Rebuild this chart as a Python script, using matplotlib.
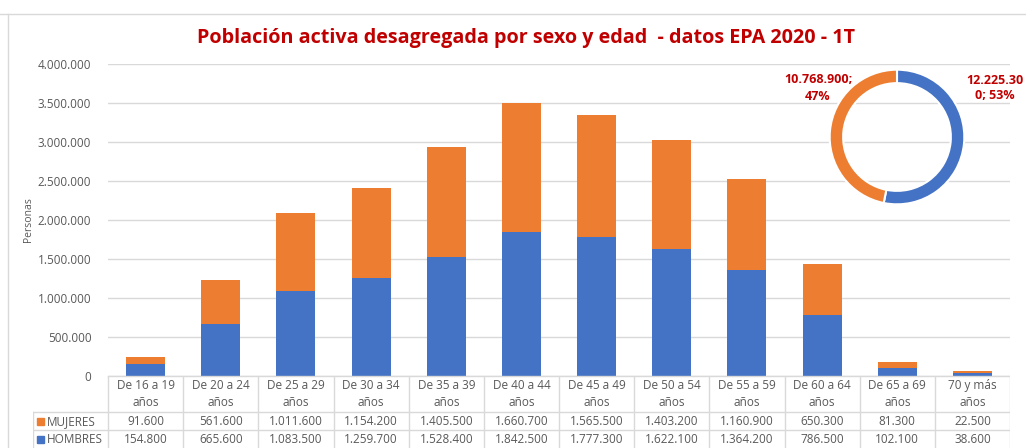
import matplotlib.pyplot as plt
from matplotlib.lines import Line2D
from matplotlib.patches import Rectangle

plt.rcParams['font.family'] = ['Open Sans', 'DejaVu Sans']

# Datos EPA 2020 - 1T
grupos = ['De 16 a 19\naños', 'De 20 a 24\naños', 'De 25 a 29\naños', 'De 30 a 34\naños',
          'De 35 a 39\naños', 'De 40 a 44\naños', 'De 45 a 49\naños', 'De 50 a 54\naños',
          'De 55 a 59\naños', 'De 60 a 64\naños', 'De 65 a 69\naños', '70 y más\naños']
hombres = [154800, 665600, 1083500, 1259700, 1528400, 1842500, 1777300, 1622100,
           1364200, 786500, 102100, 38600]
mujeres = [91600, 561600, 1011600, 1154200, 1405500, 1660700, 1565500, 1403200,
           1160900, 650300, 81300, 22500]
yticks = [0, 500000, 1000000, 1500000, 2000000, 2500000, 3000000, 3500000, 4000000]

azul = '#4472C4'
naranja = '#ED7D31'
rojo = '#C00000'
gris_txt = '#595959'
gris_lin = '#D9D9D9'


def fmt(v):
    return f'{v:,}'.replace(',', '.')


W, H = 1026, 448
fig = plt.figure(figsize=(W / 100, H / 100), dpi=100)


def px(x0, y0, x1, y1):
    # rectangulo en pixeles (origen arriba-izquierda) -> fracciones de figura
    return [x0 / W, 1 - y1 / H, (x1 - x0) / W, (y1 - y0) / H]


# borde del grafico
fig.add_artist(Line2D([0, 1], [1 - 14 / H, 1 - 14 / H], color=gris_lin, lw=1))
fig.add_artist(Line2D([8 / W, 8 / W], [0, 1 - 14 / H], color=gris_lin, lw=1))

fig.text(526 / W, 1 - 38 / H, 'Población activa desagregada por sexo y edad  - datos EPA 2020 - 1T',
         ha='center', va='center', color=rojo, fontsize=14.2, fontweight='bold')

# barras apiladas
ax = fig.add_axes(px(108, 64, 1010, 376))
x = range(len(grupos))
ax.bar(x, hombres, width=0.52, color=azul, zorder=3)
ax.bar(x, mujeres, width=0.52, bottom=hombres, color=naranja, zorder=3)
ax.set_xlim(-0.5, len(grupos) - 0.5)
ax.set_ylim(0, 4000000)
ax.set_yticks(yticks)
ax.set_yticklabels([fmt(v) for v in yticks], color=gris_txt, fontsize=8.5)
ax.set_xticks([])
ax.tick_params(axis='y', length=0, pad=12)
ax.grid(axis='y', color=gris_lin, lw=1, zorder=0)
for s in ax.spines.values():
    s.set_visible(False)
ax.axhline(0, color=gris_lin, lw=1, zorder=4)
fig.text(29 / W, 1 - 220 / H, 'Personas', rotation=90, ha='center', va='center',
         color=gris_txt, fontsize=7.5)

# tabla de datos
tb = fig.add_axes(px(33, 376, 1010, 448))
tb.set_xlim(-1.5, len(grupos) - 0.5)
tb.set_ylim(72, 0)
tb.axis('off')
for k in range(len(grupos) + 1):
    tb.plot([k - 0.5, k - 0.5], [0, 72], color=gris_lin, lw=1)
tb.plot([-1.5, -1.5], [36, 72], color=gris_lin, lw=1)
tb.plot([-0.5, len(grupos) - 0.5], [0, 0], color=gris_lin, lw=1)
for yy in (36, 54):
    tb.plot([-1.5, len(grupos) - 0.5], [yy, yy], color=gris_lin, lw=1)
for i, g in enumerate(grupos):
    tb.text(i, 18, g, ha='center', va='center', color=gris_txt, fontsize=8.5, linespacing=1.35)
    tb.text(i, 45.5, fmt(mujeres[i]), ha='center', va='center', color=gris_txt, fontsize=8.5)
    tb.text(i, 63.5, fmt(hombres[i]), ha='center', va='center', color=gris_txt, fontsize=8.5)
for yc, nombre, col in ((45.5, 'MUJERES', naranja), (63.5, 'HOMBRES', azul)):
    tb.add_patch(Rectangle((-1.45, yc + 3.5), 0.09, -7, color=col))
    tb.text(-1.32, yc, nombre, ha='left', va='center', color=gris_txt, fontsize=8.5)

# anillo con totales
tot_h = sum(hombres)
tot_m = sum(mujeres)
pa = fig.add_axes(px(829, 69, 965, 205))
pa.pie([tot_h, tot_m], colors=[azul, naranja], startangle=90, counterclock=False,
       wedgeprops=dict(width=0.2, edgecolor='white', linewidth=1.5))
pa.set_xlim(-1.01, 1.01)
pa.set_ylim(-1.01, 1.01)
pa.set_aspect('equal')
pct_h = round(100 * tot_h / (tot_h + tot_m))
pct_m = round(100 * tot_m / (tot_h + tot_m))
lab_h = fmt(tot_h) + f'; {pct_h}%'
fig.text(818 / W, 1 - 88 / H, f'{fmt(tot_m)};\n{pct_m}%', ha='center', va='center',
         color=rojo, fontsize=9, fontweight='bold', linespacing=1.3)
fig.text(995 / W, 1 - 88 / H, lab_h[:9] + '\n' + lab_h[9:], ha='center', va='center',
         color=rojo, fontsize=9, fontweight='bold', linespacing=1.3)

fig.savefig('out.png', dpi=100)
